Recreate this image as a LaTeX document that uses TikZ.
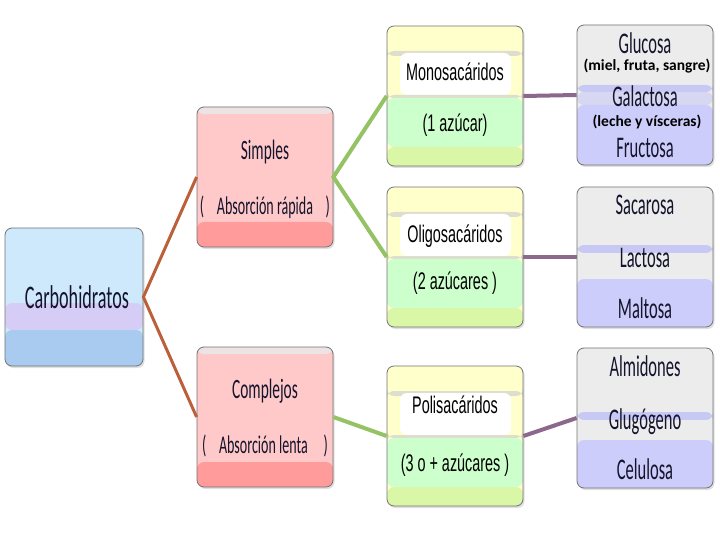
\documentclass[tikz,border=0pt]{standalone}
\usepackage{fontspec}
\usepackage{tikz}
\usetikzlibrary{shadows, calc}
\newfontfamily\boxfont{Carlito}[FakeStretch=0.55]
\newfontfamily\labfont{Liberation Sans}[FakeStretch=0.6]
\newfontfamily\notefont{Carlito}
\definecolor{inkblue}{RGB}{20,20,45}
\definecolor{carbtop}{RGB}{207,233,252}
\definecolor{carbmid}{RGB}{214,205,247}
\definecolor{carbbot}{RGB}{169,203,240}
\definecolor{pinkmain}{RGB}{255,201,201}
\definecolor{pinktop}{RGB}{236,228,228}
\definecolor{pinkbot}{RGB}{255,155,155}
\definecolor{yellowtop}{RGB}{255,255,204}
\definecolor{grayband}{RGB}{222,222,206}
\definecolor{greenmid}{RGB}{204,255,204}
\definecolor{greenbot}{RGB}{218,247,168}
\definecolor{graytop}{RGB}{236,236,236}
\definecolor{lavband}{RGB}{200,200,245}
\definecolor{lavlight}{RGB}{215,215,242}
\definecolor{lavmain}{RGB}{205,205,252}
\definecolor{brownline}{RGB}{188,96,60}
\definecolor{greenline}{RGB}{148,194,100}
\definecolor{purpleline}{RGB}{140,104,140}
% horizontal band inside a card, offsets from the top edge
\newcommand{\band}[3]{\fill[#3] ([yshift=-#1pt]path picture bounding box.north west) rectangle ([yshift=-#2pt]path picture bounding box.north east);}
\tikzset{
    card/.style={rectangle, rounded corners=7pt, draw=black!55, line width=0.8pt,
                 minimum width=136pt, minimum height=140pt, inner sep=0pt,
                 drop shadow={opacity=0.25, shadow xshift=1.5pt, shadow yshift=-2pt}},
    carbcard/.style={card, minimum width=138pt, minimum height=138pt, fill=carbtop,
                 path picture={\band{75}{102}{carbmid}\band{102}{140}{carbbot}}},
    pinkcard/.style={card, fill=pinkmain,
                 path picture={\band{0}{7}{pinktop}\band{115}{141}{pinkbot}}},
    greencard/.style={card, fill=yellowtop,
                 path picture={\band{25}{30}{grayband}
                   \fill[white] ([xshift=13pt,yshift=-27pt]path picture bounding box.north west)
                     rectangle ([xshift=-12pt,yshift=-69pt]path picture bounding box.north east);
                   \band{69}{72}{grayband}\band{72}{121}{greenmid}\band{121}{141}{greenbot}}},
    lavcard/.style n args={4}{card, fill=graytop,
                 path picture={\band{#1}{#2}{lavband}\band{#2}{#3}{#4}\band{#3}{141}{lavmain}}},
    boxtext/.style={font=\boxfont\fontsize{28}{30}\selectfont, text=inkblue, inner sep=0pt},
    subtext/.style={font=\boxfont\fontsize{25.5}{28}\selectfont, text=inkblue, inner sep=0pt},
    bigtext/.style={font=\boxfont\fontsize{30}{32}\selectfont, text=inkblue, inner sep=0pt},
    labtext/.style={font=\labfont\fontsize{24}{26}\selectfont, text=black, inner sep=0pt},
    notetext/.style={font=\notefont\bfseries\fontsize{15.5}{17}\selectfont, text=black, inner sep=0pt},
    brownlink/.style={draw=brownline, line width=3pt},
    greenlink/.style={draw=greenline, line width=4pt},
    purplelink/.style={draw=purpleline, line width=4pt}
}
\begin{document}
\begin{tikzpicture}[x=1pt, y=-1pt]
    \useasboundingbox[fill=white] (0,0) rectangle (720,540);

    % cards
    \node[carbcard] (carb) at (74,297) {};
    \node[pinkcard] (simples) at (265,177) {};
    \node[pinkcard] (complejos) at (265,417) {};
    \node[greencard] (mono) at (455,96) {};
    \node[greencard] (oligo) at (455,257) {};
    \node[greencard] (poli) at (455,436) {};
    \node[lavcard={60}{67}{80}{lavlight}] (monoEx) at (645,95) {};
    \node[lavcard={58}{66}{92}{graytop}] (oligoEx) at (645,257) {};
    \node[lavcard={64}{72}{92}{graytop}] (poliEx) at (645,418) {};

    % texts
    \node[bigtext, font=\boxfont\fontsize{33}{35}\selectfont] (carbTxt) at (77,297) {Carbohidratos};
    \node[boxtext] (simplesTxt) at (265,152) {Simples};
    \node[subtext] (simplesSub) at (265,207) {(\enspace Absorción rápida\enspace)};
    \node[boxtext] (complejosTxt) at (265,391) {Complejos};
    \node[subtext] (complejosSub) at (265,446) {(\enspace Absorción lenta\enspace\ )};
    \node[labtext] (monoTxt) at (455,72) {Monosacáridos};
    \node[labtext] (monoSub) at (455,125) {(1 azúcar)};
    \node[labtext] (oligoTxt) at (455,236) {Oligosacáridos};
    \node[labtext] (oligoSub) at (455,283) {(2 azúcares )};
    \node[labtext] (poliTxt) at (455,405) {Polisacáridos};
    \node[labtext] (poliSub) at (455,465) {(3 o + azúcares )};
    \node[bigtext] (glucosa) at (645,43) {Glucosa};
    \node[notetext] (glucosaNote) at (647,66) {(miel, fruta, sangre)};
    \node[bigtext] (galactosa) at (645,96) {Galactosa};
    \node[notetext] (galactosaNote) at (647,122) {(leche y vísceras)};
    \node[bigtext] (fructosa) at (645,148) {Fructosa};
    \node[bigtext] (sacarosa) at (645,205) {Sacarosa};
    \node[bigtext] (lactosa) at (645,258) {Lactosa};
    \node[bigtext] (maltosa) at (645,308) {Maltosa};
    \node[bigtext] (almidones) at (645,366) {Almidones};
    \node[bigtext] (glugogeno) at (645,422) {Glugógeno};
    \node[bigtext] (celulosa) at (645,469) {Celulosa};

    % links
    \draw[brownlink] (simples.west) -- (carb.east) -- (complejos.west);
    \draw[greenlink] (mono.west) -- (simples.east) -- (oligo.west);
    \draw[greenlink] (complejos.east) -- (poli.west);
    \draw[purplelink] (mono.east) -- (monoEx.west);
    \draw[purplelink] (oligo.east) -- (oligoEx.west);
    \draw[purplelink] (poli.east) -- (poliEx.west);
\end{tikzpicture}
\end{document}
